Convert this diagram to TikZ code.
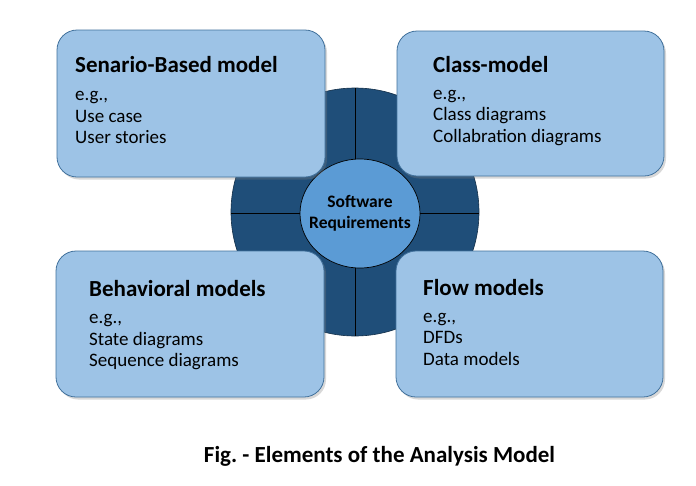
\documentclass[tikz,border=0pt]{standalone}
\usepackage{fontspec}
\setmainfont{Carlito}
\usetikzlibrary{shadows}
\definecolor{ringblue}{HTML}{1F4E79}
\definecolor{hubblue}{HTML}{5B9BD5}
\definecolor{boxblue}{HTML}{9DC3E6}
\definecolor{boxedge}{HTML}{41719C}

\tikzset{
  modelbox/.style={draw=boxedge, fill=boxblue, line width=0.8pt, rounded corners=20pt,
    drop shadow={opacity=0.3, shadow xshift=2pt, shadow yshift=-2.5pt}},
  boxtitle/.style={anchor=base west, inner sep=0pt, font=\fontsize{23}{27}\selectfont\bfseries},
  boxline/.style={anchor=base west, inner sep=0pt, font=\fontsize{19}{22}\selectfont},
}

\begin{document}
\begin{tikzpicture}[x=1pt, y=-1pt]
				\useasboundingbox[fill=white] (0, 0) rectangle (696, 485);
				
				% ring and cross
				\draw[fill=ringblue, draw=ringblue!60!black, line width=0.6pt] (355, 212) circle (124);
				\draw[line width=0.7pt] (355, 88) -- (355, 336);
				\draw[line width=0.7pt] (231, 213) -- (479, 213);
				\draw[fill=hubblue, line width=0.7pt] (360, 213.5) ellipse [x radius=60, y radius=54.5];
				\node[align=center, inner sep=0pt, font=\fontsize{17.5}{21}\selectfont\bfseries] (req) at (360, 213) {Software\\Requirements};
				
				% the four models
				\node[modelbox, minimum width=268pt, minimum height=147pt] (scen) at (191, 103.5) {};
				\node[boxtitle] (scen-t) at (75, 72) {Senario-Based model};
				\foreach \txt [count=\i] in {{e.g.,}, Use case, User stories}
					\node[boxline] (scen-\i) at (75, 79 + 21.5*\i) {\txt};
				
				\node[modelbox, minimum width=267pt, minimum height=145pt] (class) at (530.5, 103.5) {};
				\node[boxtitle] (class-t) at (433, 72) {Class-model};
				\foreach \txt [count=\i] in {{e.g.,}, Class diagrams, Collabration diagrams}
					\node[boxline] (class-\i) at (433, 77.5 + 21.5*\i) {\txt};
				
				\node[modelbox, minimum width=268pt, minimum height=146pt] (behav) at (190, 324) {};
				\node[boxtitle] (behav-t) at (89, 296) {Behavioral models};
				\foreach \txt [count=\i] in {{e.g.,}, State diagrams, Sequence diagrams}
					\node[boxline] (behav-\i) at (89, 302 + 21.5*\i) {\txt};
				
				\node[modelbox, minimum width=267pt, minimum height=146pt] (flow) at (529.5, 324) {};
				\node[boxtitle] (flow-t) at (423, 295) {Flow models};
				\foreach \txt [count=\i] in {{e.g.,}, DFDs, Data models}
					\node[boxline] (flow-\i) at (423, 300.5 + 21.5*\i) {\txt};
				
				% caption
				\node[anchor=base, inner sep=0pt, font=\fontsize{23}{27}\selectfont\bfseries] (caption) at (379.5, 462) {Fig.\ - Elements of the Analysis Model};
			\end{tikzpicture}
\end{document}
